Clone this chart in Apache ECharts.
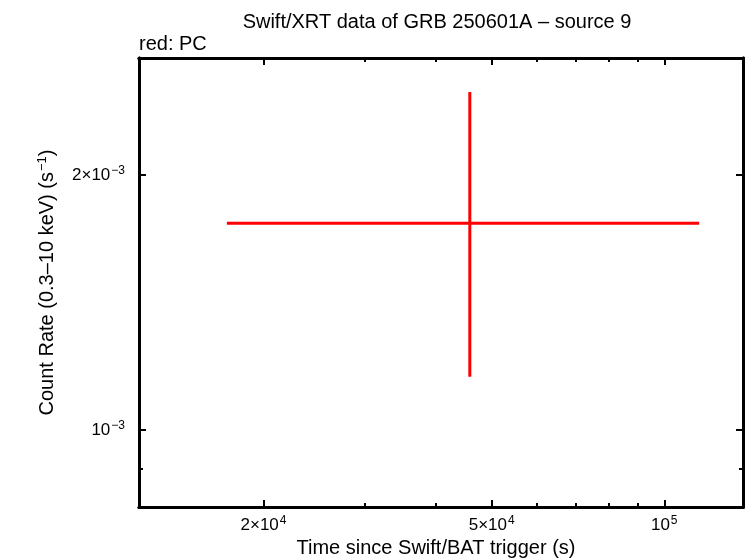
<!DOCTYPE html>
<html>
<head>
<meta charset="utf-8">
<script src="https://cdn.jsdelivr.net/npm/echarts@6/dist/echarts.min.js"></script>
<style>html,body{margin:0;padding:0;background:#fff;}#c{width:746px;height:558px;}</style>
</head>
<body>
<div id="c"></div>
<script>
// ---- data ----
const timeCenter = [45800];
const timeLow = [17265];
const timeHigh = [115060];
const rateCenter = [1.754e-3];
const rateLow = [1.156e-3];
const rateHigh = [2.506e-3];

const xMajorTicks = [2e4, 5e4, 1e5];
const xMajorLabels = ['{b|2×10}{s|4}', '{b|5×10}{s|4}', '{b|10}{s|5}'];
const xMinorTicks = [3e4, 4e4, 6e4, 7e4, 8e4, 9e4];
const yMajorTicks = [1e-3, 2e-3];
const yMajorLabels = ['{b|10}{s|−3}', '{b|2×10}{s|−3}'];
const yMinorTicks = [9e-4];

const xRange = [12130, 137200];
const yRange = [8.112e-4, 2.749e-3];

const FONT = 'Liberation Sans';
const L = Math.log10;
const rich = {
  b: {fontFamily: FONT, fontSize: 17, color: '#000'},
  s: {fontFamily: FONT, fontSize: 12, color: '#000', padding: [0, 0, 9, 1]}
};

function frameAxis(pos, range, ticks, len, labels, isX) {
  const a = {
    type: 'value', position: pos, gridIndex: 0,
    min: L(range[0]), max: L(range[1]),
    splitLine: {show: false},
    axisLine: {show: true, onZero: false, lineStyle: {color: '#000', width: 3}},
    axisTick: {show: true, inside: true, length: len, lineStyle: {color: '#000', width: 2},
               customValues: ticks.map(L)},
    axisLabel: {show: false}
  };
  if (labels) {
    const vals = ticks.map(L);
    a.axisLabel = {
      show: true, customValues: vals, rich: rich, margin: isX ? 8 : 14,
      formatter: function (v) {
        for (let i = 0; i < vals.length; i++) if (Math.abs(vals[i] - v) < 1e-6) return labels[i];
        return '';
      }
    };
  }
  return a;
}

const chart = echarts.init(document.getElementById('c'), null, {renderer: 'canvas'});

const xAxes = [
  {type: 'log', min: xRange[0], max: xRange[1], show: false, gridIndex: 0},
  Object.assign(frameAxis('bottom', xRange, xMajorTicks, 7, xMajorLabels, true), {
    name: 'Time since Swift/BAT trigger (s)', nameLocation: 'middle', nameGap: 30,
    nameTextStyle: {fontFamily: FONT, fontSize: 20, color: '#000', padding: [0, 10, 0, 0]}
  }),
  frameAxis('bottom', xRange, xMinorTicks, 4, null, true),
  frameAxis('top', xRange, xMajorTicks, 7, null, true),
  frameAxis('top', xRange, xMinorTicks, 4, null, true)
];
const yAxes = [
  {type: 'log', min: yRange[0], max: yRange[1], show: false, gridIndex: 0},
  Object.assign(frameAxis('left', yRange, yMajorTicks, 7, yMajorLabels, false), {
    name: '{b|Count Rate (0.3–10 keV) (s}{s|−1}{b|)}', nameLocation: 'middle', nameGap: 80,
    nameTextStyle: {fontFamily: FONT, fontSize: 20, color: '#000',
      rich: {b: {fontFamily: FONT, fontSize: 20, color: '#000'},
             s: {fontFamily: FONT, fontSize: 13, color: '#000', padding: [0, 0, 10, 1]}}}
  }),
  frameAxis('left', yRange, yMinorTicks, 4, null, false),
  frameAxis('right', yRange, yMajorTicks, 7, null, false),
  frameAxis('right', yRange, yMinorTicks, 4, null, false)
];

const pts = timeCenter.map((t, i) => [t, rateCenter[i], timeLow[i], timeHigh[i], rateLow[i], rateHigh[i]]);

chart.setOption({
  animation: false,
  backgroundColor: '#fff',
  title: {
    text: 'Swift/XRT data of GRB 250601A – source 9', left: 432, top: 7, textAlign: 'center',
    textStyle: {fontFamily: FONT, fontSize: 20, fontWeight: 'normal', color: '#000'}
  },
  graphic: [{
    type: 'text', left: 139, top: 34,
    style: {text: 'red: PC', fontFamily: FONT, fontSize: 20, fill: '#000'}
  }],
  grid: {left: 139, top: 58, width: 604, height: 449, containLabel: false, outerBoundsMode: 'none'},
  xAxis: xAxes,
  yAxis: yAxes,
  series: [{
    type: 'custom', xAxisIndex: 0, yAxisIndex: 0, data: pts,
    renderItem: function (params, api) {
      const c = api.coord([api.value(0), api.value(1)]);
      const xl = api.coord([api.value(2), api.value(1)]);
      const xh = api.coord([api.value(3), api.value(1)]);
      const yl = api.coord([api.value(0), api.value(4)]);
      const yh = api.coord([api.value(0), api.value(5)]);
      const st = {stroke: '#ff0000', lineWidth: 3};
      return {type: 'group', children: [
        {type: 'line', shape: {x1: xl[0], y1: c[1], x2: xh[0], y2: c[1]}, style: st},
        {type: 'line', shape: {x1: c[0], y1: yl[1], x2: c[0], y2: yh[1]}, style: st}
      ]};
    }
  }]
});
</script>
</body>
</html>
